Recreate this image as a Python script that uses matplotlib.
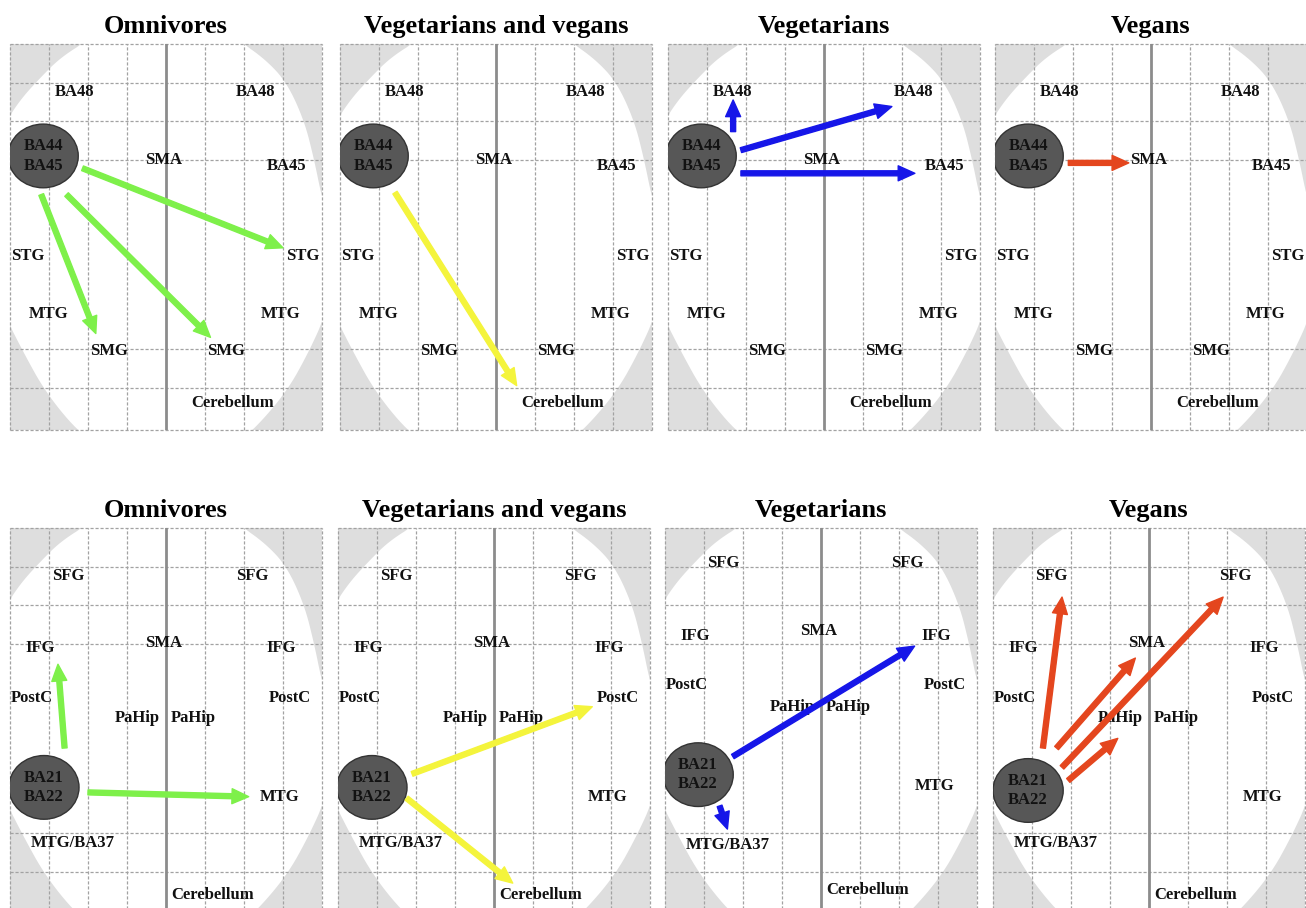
import matplotlib
matplotlib.use("Agg")
import matplotlib.pyplot as plt
import numpy as np
from matplotlib.patches import Ellipse, FancyArrowPatch, Polygon

# --- panel contents (grid units: 8 columns wide, 10 rows tall, row 0 at top) ---
TITLES = ["Omnivores", "Vegetarians and vegans", "Vegetarians", "Vegans"]
ARROW_COLORS = ["#7ef04a", "#f4f43c", "#1616e8", "#e4461e"]

TOP_SEED = "BA44\nBA45"
TOP_SEED_X = [0.85, 0.85, 0.85, 0.85]
TOP_SEED_Y = [2.9, 2.9, 2.9, 2.9]
TOP_LABELS = ["BA48", "BA48", "SMA", "BA45", "STG", "STG", "MTG", "MTG", "SMG", "SMG", "Cerebellum"]
TOP_LABEL_X = [1.65, 6.3, 3.95, 7.1, 0.45, 7.5, 1.0, 6.95, 2.55, 5.55, 5.7]
TOP_LABEL_Y = [1.25, 1.25, 3.0, 3.17, 5.5, 5.5, 7.0, 7.0, 7.95, 7.95, 9.3]

BOTTOM_SEED = "BA21\nBA22"
BOTTOM_SEED_X = [0.87, 0.87, 0.85, 0.9]
BOTTOM_SEED_Y = [6.72, 6.72, 6.39, 6.8]
BOTTOM_LABELS = ["SFG", "SFG", "SMA", "IFG", "IFG", "PostC", "PostC", "PaHip", "PaHip",
                 "MTG", "MTG/BA37", "Cerebellum"]
BOTTOM_LABEL_X = [1.5, 6.2, 3.95, 0.78, 6.95, 0.55, 7.18, 3.27, 4.7, 6.92, 1.6, 5.2]
BOTTOM_LABEL_Y = [1.25, 1.25, 2.98, 3.1, 3.1, 4.4, 4.4, 4.92, 4.92, 6.96, 8.15, 9.5]
# the "Vegetarians" panel of the lower row has its labels set a little higher
BOTTOM_LABEL_Y_VEG = [0.9, 0.9, 2.68, 2.8, 2.8, 4.08, 4.08, 4.65, 4.65, 6.68, 8.2, 9.38]
BOTTOM_LABEL_Y_PANELS = [BOTTOM_LABEL_Y, BOTTOM_LABEL_Y, BOTTOM_LABEL_Y_VEG, BOTTOM_LABEL_Y]

# arrows: (x_start, y_start, x_end, y_end)
TOP_ARROWS = [
    [(1.86, 3.22, 7.0, 5.28), (1.45, 3.9, 5.14, 7.6), (0.8, 3.9, 2.2, 7.5)],
    [(1.41, 3.85, 4.53, 8.85)],
    [(1.67, 2.27, 1.67, 1.45), (1.87, 2.75, 5.74, 1.62), (1.87, 3.35, 6.33, 3.35)],
    [(1.88, 3.08, 3.43, 3.08)],
]
BOTTOM_ARROWS = [
    [(1.4, 5.7, 1.23, 3.53), (2.0, 6.85, 6.12, 6.96)],
    [(1.9, 6.37, 6.52, 4.63), (1.76, 7.0, 4.48, 9.2)],
    [(1.74, 5.92, 6.4, 3.06), (1.4, 7.2, 1.6, 7.8)],
    [(1.28, 5.7, 1.77, 1.79), (1.63, 5.7, 3.65, 3.37), (1.77, 6.2, 5.9, 1.79),
     (1.93, 6.54, 3.2, 5.45)],
]

# brain outline (white area) in grid units
BRAIN_X = [2.0, 1.3, 0.8, 0.3, -0.1, -0.2, -0.2, 0.35, 0.9, 1.7, 2.4, 5.6,
           6.25, 7.1, 7.65, 8.1, 8.2, 8.2, 8.0, 7.8, 7.55, 7.1, 6.55, 5.85, 5.85, 2.0]
BRAIN_Y = [-0.1, 0.35, 0.85, 1.4, 2.0, 2.8, 6.9, 8.0, 9.0, 10.0, 10.5, 10.5,
           10.0, 9.0, 8.0, 7.0, 6.0, 4.5, 4.0, 3.0, 2.0, 1.0, 0.4, -0.1, -0.4, -0.4]

GRID_COLS = [0, 1, 2, 3, 5, 6, 7, 8]
GRID_ROWS = [0, 1, 2, 3, 7.9, 8.9, 10]

# layout in pixels
W, H = 1306, 908
TOP_LEFTS = [10, 340, 668, 995]
BOTTOM_LEFTS = [10, 338, 665, 993]
PANEL_W, PANEL_H = 312, 386
TOP_Y, BOTTOM_Y = 44, 528

SERIF = "Liberation Serif"


def chaikin(x, y, n_iter=3):
    pts = np.column_stack([x, y])
    for _ in range(n_iter):
        nxt = np.roll(pts, -1, axis=0)
        q = 0.75 * pts + 0.25 * nxt
        r = 0.25 * pts + 0.75 * nxt
        pts = np.empty((2 * len(q), 2))
        pts[0::2] = q
        pts[1::2] = r
    return pts


def draw_panel(fig, left, top, title, seed, seed_xy, labels, lx, ly, arrows, color):
    ax = fig.add_axes([left / W, 1 - (top + PANEL_H) / H, PANEL_W / W, PANEL_H / H])
    ax.set_xlim(0, 8)
    ax.set_ylim(10, 0)
    ax.set_facecolor("#dedede")
    ax.set_xticks([])
    ax.set_yticks([])
    for s in ax.spines.values():
        s.set_visible(False)

    ax.add_patch(Polygon(chaikin(BRAIN_X, BRAIN_Y), closed=True, facecolor="white",
                         edgecolor="none", zorder=1))

    for c in GRID_COLS:
        ax.axvline(c, color="#a2a2a2", lw=0.9, ls=(0, (2.5, 1.5)), zorder=2, clip_on=False)
    for r in GRID_ROWS:
        ax.axhline(r, color="#a2a2a2", lw=0.9, ls=(0, (2.5, 1.5)), zorder=2, clip_on=False)
    ax.axvline(4, color="#8c8c8c", lw=2.0, zorder=2)

    ax.add_patch(Ellipse(seed_xy, 1.8, 1.65, facecolor="#575757", edgecolor="#333333",
                         lw=1, zorder=4))
    ax.text(seed_xy[0], seed_xy[1], seed, ha="center", va="center", fontsize=12,
            fontweight="bold", family=SERIF, color="#121212", linespacing=1.3, zorder=5)

    for name, x, y in zip(labels, lx, ly):
        ax.text(x, y, name, ha="center", va="center", fontsize=12,
                fontweight="bold", family=SERIF, color="#111111", zorder=5)

    for x0, y0, x1, y1 in arrows:
        ax.add_patch(FancyArrowPatch(
            (x0, y0), (x1, y1),
            arrowstyle="Simple,tail_width=0.3,head_width=0.9,head_length=1.0",
            mutation_scale=12, color=color, shrinkA=0, shrinkB=0, zorder=6))

    fig.text((left + PANEL_W / 2) / W, 1 - (top - 11) / H, title, ha="center",
             va="baseline", fontsize=19, fontweight="bold", family=SERIF)
    return ax


def main() -> None:
    fig = plt.figure(figsize=(W / 100, H / 100), dpi=100)
    fig.patch.set_facecolor("white")

    for i in range(4):
        draw_panel(fig, TOP_LEFTS[i], TOP_Y, TITLES[i], TOP_SEED,
                   (TOP_SEED_X[i], TOP_SEED_Y[i]), TOP_LABELS, TOP_LABEL_X, TOP_LABEL_Y,
                   TOP_ARROWS[i], ARROW_COLORS[i])
    for i in range(4):
        draw_panel(fig, BOTTOM_LEFTS[i], BOTTOM_Y, TITLES[i], BOTTOM_SEED,
                   (BOTTOM_SEED_X[i], BOTTOM_SEED_Y[i]), BOTTOM_LABELS, BOTTOM_LABEL_X,
                   BOTTOM_LABEL_Y_PANELS[i], BOTTOM_ARROWS[i], ARROW_COLORS[i])

    fig.savefig("out.png", dpi=100)


if __name__ == "__main__":
    main()
